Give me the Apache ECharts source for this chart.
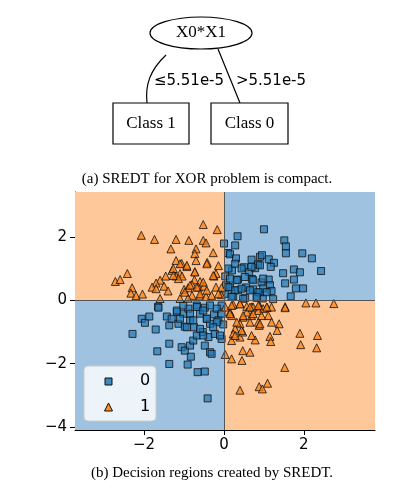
<!DOCTYPE html>
<html><head><meta charset="utf-8">
<script src="https://cdn.jsdelivr.net/npm/echarts@6/dist/echarts.min.js"></script>
<style>html,body{margin:0;padding:0;background:#fff}#c{width:400px;height:490px}</style>
</head><body><div id="c"></div>
<script>
const xTicks = [-2, 0, 2];
const yTicks = [-4, -2, 0, 2];
const legendLabels = ['0', '1'];
const treeRoot = 'X0*X1';
const treeLeaves = ['Class 1', 'Class 0'];
const edgeLabels = ['≤5.51e-5', '>5.51e-5'];
const captionA = '(a) SREDT for XOR problem is compact.';
const captionB = '(b) Decision regions created by SREDT.';
const class0 = [
[0,1.8],[0.1,1.5],[-1.65,-0.2],
[1.0,2.25],[0.34,2.03],[0.28,1.74],[1.51,1.9],[1.55,1.71],[1.55,1.49],[1.96,1.49],[2.2,1.33],[2.43,0.93],
[0.15,1.46],[0.3,1.33],[0.69,1.29],[0.9,1.38],[0.95,1.43],[1.12,1.3],[1.25,1.19],[1.17,1.06],[0.2,0.95],
[0.5,1.05],[0.63,0.9],[0.78,1.02],[0.85,1.14],[0.03,0.76],[0.35,0.66],[0.7,0.68],[0.94,0.57],[1.12,0.66],
[1.15,0.48],[1.48,0.86],[1.53,0.54],[1.75,0.98],[1.9,0.89],[1.75,0.66],[1.8,0.38],[1.98,0.38],[1.67,0.13],
[1.23,0.04],[0.05,0.48],[0.15,0.41],[0.35,0.32],[0.55,0.41],[0.73,0.35],[0.9,0.25],[0.98,0.38],[1.19,0.3],
[0.02,0.21],[0.23,0.13],[0.53,0.08],[0.82,0.08],[0.97,0.06],
[-1.64,-0.23],[-2.06,-0.58],[-1.98,-0.71],[-1.87,-0.51],[-2.29,-1.06],[-1.71,-0.92],[-1.43,-0.51],[-1.37,-0.79],
[-1.31,-0.58],[-1.18,-0.37],[-1.14,-0.74],[-1.02,-0.42],[-0.98,-0.83],[-0.89,-0.26],[-0.85,-0.63],[-0.75,-0.85],
[-0.68,-0.16],[-0.6,-0.42],[-0.48,-0.23],[-0.43,-0.58],[-0.35,-0.74],[-0.25,-0.44],[-0.14,-0.63],[-0.06,-0.16],
[-0.02,-0.76],[-1.37,-1.37],[-1.67,-1.61],[-1.06,-1.48],[-0.98,-1.59],[-0.85,-1.43],[-0.77,-1.27],[-0.83,-1.78],
[-0.68,-1.11],[-0.53,-1.0],[-0.48,-1.43],[-0.39,-1.16],[-0.35,-1.64],[-0.23,-1.06],[-0.06,-1.22],[-0.31,-1.69],
[-1.37,-2.01],[-0.91,-2.03],[-0.66,-2.27],[-0.48,-2.25],[-0.41,-3.1],
[0.11,1.01],[0.28,1.16],[0.44,1.01],[0.69,1.06],[0.9,1.11],[0.15,0.69],[0.32,0.64],[0.52,0.74],[0.73,0.64],
[0.98,0.69],[0.11,0.42],[0.28,0.32],[0.44,0.37],[0.65,0.32],[0.86,0.26],[1.07,0.26],[0.19,0.11],[0.48,0.05],[0.82,0.11],
[-1.18,-0.32],[-1.02,-0.16],[-0.85,-0.42],[-0.68,-0.21],[-0.52,-0.32],[-0.35,-0.16],[-0.18,-0.26],[-0.06,-0.42],
[-1.1,-0.58],[-0.77,-0.63],[-0.43,-0.58],[-0.18,-0.69],[-0.93,-0.85],[-0.6,-0.9],[-0.27,-0.85],[-0.1,-1.11],[-0.52,-1.11]
];
const class1 = [
[-0.52,2.4],[-0.17,2.24],[-2.07,2.06],[-1.74,1.93],[-1.2,1.93],[-0.88,1.9],[-0.52,1.9],[-0.45,1.82],[-1.33,1.63],
[-0.7,1.63],[-0.73,1.48],[-0.27,1.51],[-1.2,1.26],[-1.06,1.17],[-0.93,1.07],[-0.7,1.26],[-0.42,1.2],[-0.14,1.1],
[-1.3,0.95],[-0.73,0.91],[-2.42,0.85],[-1.1,0.85],[-1.2,0.77],[-1.05,0.77],[-1.46,0.77],[-0.2,0.85],[-0.25,0.77],
[-2.72,0.6],[-2.6,0.66],[-1.6,0.64],[-1.7,0.55],[-1.8,0.42],[-1.7,0.37],[-1.5,0.45],[-2.3,0.4],[-2.33,0.23],
[-2.2,0.15],[-2.04,0.2],[-1.4,0.3],[-1.0,0.35],[-0.9,0.4],[-0.74,0.65],[-0.6,0.6],[-0.8,0.5],[-0.64,0.42],
[-0.5,0.45],[-0.2,0.42],[-0.06,0.4],[-0.8,0.16],[-0.6,0.14],[-1.6,0.06],[-1.1,0.06],[-0.9,0.07],[-0.45,0.12],[-0.07,0.18],
[-1.27,1.01],[-1.1,1.16],[-0.93,1.11],[-0.73,0.9],[-0.43,1.16],[-0.27,0.79],[-0.52,0.58],[-0.68,0.42],
[-0.85,0.48],[-0.98,0.26],[-0.6,0.21],[-0.43,0.32],[-0.31,0.16],[-0.14,0.21],[-1.14,0.69],[-1.27,0.79],
[2.05,-0.08],[2.3,-0.08],[2.75,-0.1],[1.53,-0.2],[1.08,-0.22],[0.9,-0.2],[0.7,-0.2],[0.03,-1.71],
[1.53,-0.23],[0.15,-0.37],[0.19,-0.48],[0.03,-0.21],[0.23,-0.13],[0.4,-0.1],[0.57,-0.19],[0.73,-0.21],[0.88,-0.16],
[0.98,-0.26],[1.19,-0.21],[1.11,-0.48],[0.86,-0.32],[0.69,-0.48],[0.48,-0.53],[0.57,-0.37],[0.4,-0.74],[0.28,-0.9],
[0.23,-1.06],[0.19,-1.27],[0.4,-1.16],[0.47,-1.0],[0.86,-0.69],[0.88,-0.79],[1.19,-0.69],[1.38,-0.74],[1.33,-0.95],
[0.78,-1.25],[1.15,-1.14],[1.17,-1.3],[1.9,-1.04],[2.34,-1.11],[1.92,-1.4],[2.32,-1.5],[0.19,-1.85],[0.47,-1.59],
[0.65,-1.64],[0.45,-1.9],[1.52,-2.12],[0.4,-2.84],[0.88,-2.73],[0.96,-2.8],[1.09,-2.62],
[0.19,-0.16],[0.4,-0.11],[0.65,-0.21],[0.86,-0.16],[1.07,-0.21],[0.15,-0.42],[0.48,-0.48],[0.73,-0.42],[0.94,-0.48],
[0.32,-0.69],[0.65,-0.69],[0.9,-0.74],[0.44,-0.95],[0.69,-1.11],[0.28,-1.11]
];
const xMin=-3.73, xMax=3.78, yMin=-4.1, yMax=3.43;
const orange='#fec89a', blue='#9ec2df';
const ch = echarts.init(document.getElementById('c'));
const serif = 'Liberation Serif';
const fmt = v => String(v).replace('-', '\u2212');
ch.setOption({
  animation:false,
  grid:{left:75,right:25,top:192,bottom:60},
  xAxis:{type:'value',min:xMin,max:xMax,splitLine:{show:false},
    axisLine:{onZero:false,lineStyle:{color:'#000'}},axisTick:{length:5,lineStyle:{color:'#000'},customValues:xTicks},
    axisLabel:{color:'#000',fontSize:15,fontFamily:'DejaVu Sans',customValues:xTicks,formatter:fmt}},
  yAxis:{type:'value',min:yMin,max:yMax,splitLine:{show:false},
    axisLine:{onZero:false,lineStyle:{color:'#000'}},axisTick:{length:5,lineStyle:{color:'#000'},customValues:yTicks},
    axisLabel:{color:'#000',fontSize:15,fontFamily:'DejaVu Sans',customValues:yTicks,formatter:fmt}},
  series:[
    {type:'scatter',data:[],silent:true,
     markArea:{silent:true,itemStyle:{opacity:1},data:[
      [{coord:[xMin,0],itemStyle:{color:orange}},{coord:[0,yMax]}],
      [{coord:[0,0],itemStyle:{color:blue}},{coord:[xMax,yMax]}],
      [{coord:[xMin,yMin],itemStyle:{color:blue}},{coord:[0,0]}],
      [{coord:[0,yMin],itemStyle:{color:orange}},{coord:[xMax,0]}]]},
     markLine:{silent:true,symbol:'none',label:{show:false},lineStyle:{color:'#555',width:1,type:'solid'},
      data:[{xAxis:0},{yAxis:0}]}},
    {type:'scatter',data:class0,symbol:'rect',symbolSize:7,
     itemStyle:{color:'rgba(31,119,180,0.85)',borderColor:'#111',borderWidth:1}},
    {type:'scatter',data:class1,symbol:'triangle',symbolSize:8,
     itemStyle:{color:'rgba(255,127,14,0.9)',borderColor:'#111',borderWidth:1}}
  ],
  graphic:[
    {type:'ellipse',shape:{cx:201,cy:33,rx:51,ry:16},style:{fill:'#fff',stroke:'#000',lineWidth:1.2}},
    {type:'text',x:201,y:33,style:{text:treeRoot,font:'17px '+serif,fill:'#000',align:'center',verticalAlign:'middle'}},
    {type:'bezierCurve',shape:{x1:166,y1:55,cpx1:150,cpy1:70,cpx2:145,cpy2:85,x2:147,y2:103},style:{stroke:'#000',fill:null,lineWidth:1.2}},
    {type:'line',shape:{x1:218,y1:49,x2:240,y2:103},style:{stroke:'#000',lineWidth:1.2}},
    {type:'text',x:189,y:81,style:{text:edgeLabels[0],font:'15px DejaVu Sans',fill:'#000',align:'center',verticalAlign:'middle'}},
    {type:'text',x:271,y:81,style:{text:edgeLabels[1],font:'15px DejaVu Sans',fill:'#000',align:'center',verticalAlign:'middle'}},
    {type:'rect',shape:{x:113,y:103,width:76,height:41},style:{fill:'#fff',stroke:'#000',lineWidth:1.2}},
    {type:'rect',shape:{x:211,y:103,width:77,height:41},style:{fill:'#fff',stroke:'#000',lineWidth:1.2}},
    {type:'text',x:151,y:124,style:{text:treeLeaves[0],font:'17px '+serif,fill:'#000',align:'center',verticalAlign:'middle'}},
    {type:'text',x:249.5,y:124,style:{text:treeLeaves[1],font:'17px '+serif,fill:'#000',align:'center',verticalAlign:'middle'}},
    {type:'text',x:207,y:179,style:{text:captionA,font:'15px '+serif,fill:'#000',align:'center',verticalAlign:'middle'}},
    {type:'text',x:212,y:473,style:{text:captionB,font:'15px '+serif,fill:'#000',align:'center',verticalAlign:'middle'}},
    {type:'rect',z:100,shape:{x:84,y:366,width:72,height:55,r:4},style:{fill:'rgba(255,255,255,0.8)',stroke:'#ccc',lineWidth:1}},
    {type:'rect',z:101,shape:{x:105,y:378,width:7,height:7},style:{fill:'rgba(31,119,180,0.85)',stroke:'#111',lineWidth:1}},
    {type:'polygon',z:101,shape:{points:[[108.5,403],[104.5,411],[112.5,411]]},style:{fill:'rgba(255,127,14,0.9)',stroke:'#111',lineWidth:1}},
    {type:'text',z:101,x:145,y:381,style:{text:legendLabels[0],font:'16px DejaVu Sans',fill:'#000',align:'center',verticalAlign:'middle'}},
    {type:'text',z:101,x:145,y:407,style:{text:legendLabels[1],font:'16px DejaVu Sans',fill:'#000',align:'center',verticalAlign:'middle'}}
  ]
});
</script></body></html>
